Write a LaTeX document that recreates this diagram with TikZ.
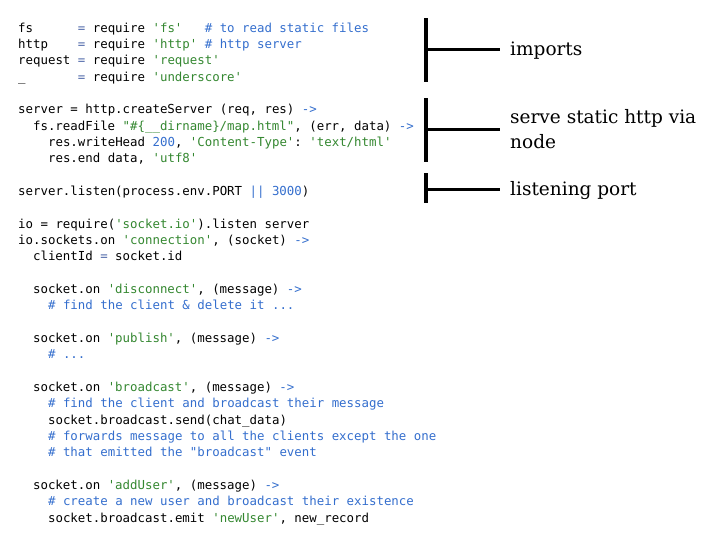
\documentclass[tikz,border=0pt]{standalone}
\usepackage{fontspec}
\setmonofont{DejaVu Sans Mono}
\newfontfamily\labelfont{DejaVu Serif}
\definecolor{codegreen}{RGB}{52,135,48}
\definecolor{codeblue}{RGB}{52,110,205}
\definecolor{codeop}{RGB}{80,105,170}
\newcommand{\cstr}[1]{\textcolor{codegreen}{#1}}
\newcommand{\ccom}[1]{\textcolor{codeblue}{#1}}
\newcommand{\cop}[1]{\textcolor{codeop}{#1}}
\tikzset{
  code/.style={anchor=base west, inner sep=0pt, font=\ttfamily\fontsize{12.4}{16.33}\selectfont},
  note/.style={anchor=base west, inner sep=0pt, align=left, font=\labelfont\fontsize{18.5}{25}\selectfont},
  bar/.style={line width=4.5pt},
  tick/.style={line width=3pt, shorten >=10pt}
}
\begin{document}
\begin{tikzpicture}[x=1pt,y=-1pt]
\useasboundingbox (0,0) rectangle (728,546);

% imports
\node[code] (fs) at (18,32) {fs\ \ \ \ \ \ \cop{=} require \cstr{'fs'}\ \ \ \ccom{\# to read static files}};
\node[code] (http) at (18,48.3) {http\ \ \ \ \cop{=} require \cstr{'http'} \ccom{\# http server}};
\node[code] (request) at (18,64.7) {request \cop{=} require \cstr{'request'}};
\node[code] (under) at (18,81) {\_\ \ \ \ \ \ \ \cop{=} require \cstr{'underscore'}};

% server
\node[code] (server) at (18,113.7) {server = http.createServer (req, res) \ccom{->}};
\node[code] (readfile) at (32.9,130) {fs.readFile \cstr{"\#\{\_\_dirname\}/map.html"}, (err, data) \ccom{->}};
\node[code] (writehead) at (47.9,146.3) {res.writeHead \ccom{200}, \cstr{'Content-Type'}: \cstr{'text/html'}};
\node[code] (resend) at (47.9,162.7) {res.end data, \cstr{'utf8'}};
\node[code] (listen) at (18,195.3) {server.listen(process.env.PORT \ccom{||} \ccom{3000})};

% sockets
\node[code] (io) at (18,228) {io = require(\cstr{'socket.io'}).listen server};
\node[code] (conn) at (18,244.3) {io.sockets.on \cstr{'connection'}, (socket) \ccom{->}};
\node[code] (client) at (32.9,260.7) {clientId \cop{=} socket.id};

\node[code] (disc) at (32.9,293.3) {socket.on \cstr{'disconnect'}, (message) \ccom{->}};
\node[code] (disccom) at (47.9,309.7) {\ccom{\# find the client \& delete it ...}};

\node[code] (pub) at (32.9,342.3) {socket.on \cstr{'publish'}, (message) \ccom{->}};
\node[code] (pubcom) at (47.9,358.7) {\ccom{\# ...}};

\node[code] (bcast) at (32.9,391.3) {socket.on \cstr{'broadcast'}, (message) \ccom{->}};
\node[code] (bcom1) at (47.9,407.7) {\ccom{\# find the client and broadcast their message}};
\node[code] (bsend) at (47.9,424) {socket.broadcast.send(chat\_data)};
\node[code] (bcom2) at (47.9,440.3) {\ccom{\# forwards message to all the clients except the one}};
\node[code] (bcom3) at (47.9,456.7) {\ccom{\# that emitted the "broadcast" event}};

\node[code] (adduser) at (32.9,489.3) {socket.on \cstr{'addUser'}, (message) \ccom{->}};
\node[code] (acom) at (47.9,505.7) {\ccom{\# create a new user and broadcast their existence}};
\node[code] (aemit) at (47.9,522) {socket.broadcast.emit \cstr{'newUser'}, new\_record};

% notes
\node[note] (imports) at (510,55) {imports};
\node[note, anchor=west] (static) at (510,129.5) {serve static http via\\node};
\node[note] (port) at (510,195) {listening port};

\coordinate (b1) at (426,49);
\coordinate (b2) at (426,129);
\coordinate (b3) at (426,189);

\draw[bar] (426,18) -- (426,82);
\draw[bar] (426,98) -- (426,162);
\draw[bar] (426,173) -- (426,203);

\draw[tick] (b1) -- (b1 -| imports.west);
\draw[tick] (b2) -- (b2 -| static.west);
\draw[tick] (b3) -- (b3 -| port.west);

\end{tikzpicture}
\end{document}
